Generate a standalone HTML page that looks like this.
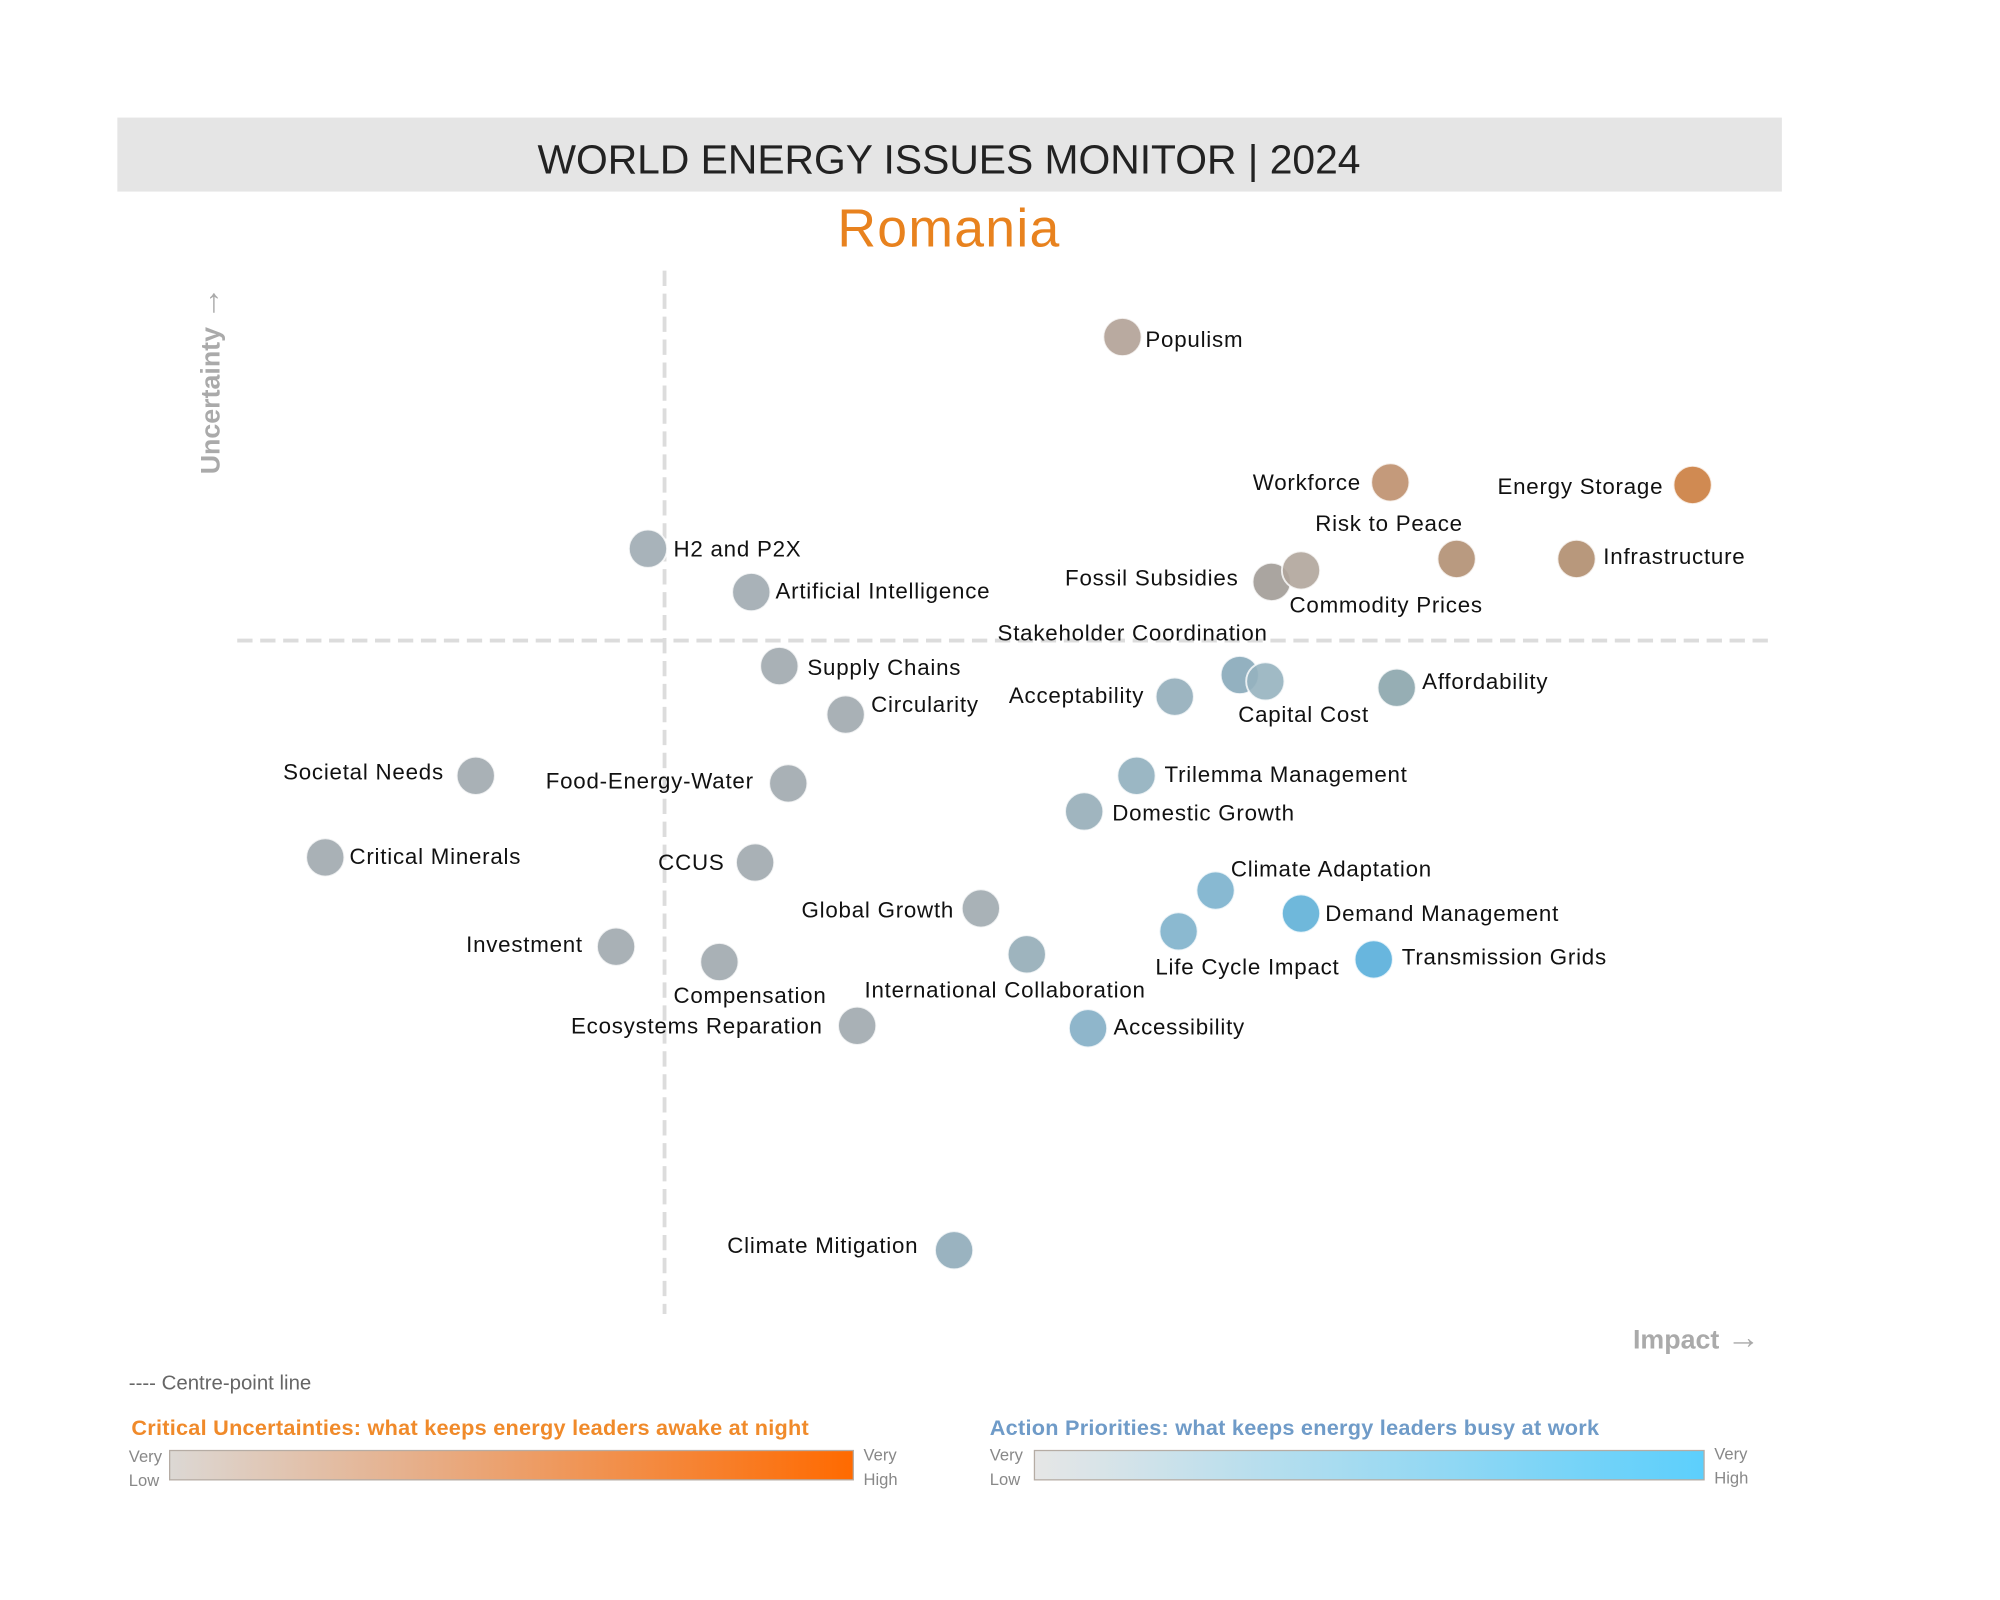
<!DOCTYPE html>
<html><head><meta charset="utf-8"><style>body{margin:0;background:#fff}svg{display:block}</style></head>
<body>
<svg width="2000" height="1600" viewBox="0 0 1568 1254" xmlns="http://www.w3.org/2000/svg" font-family="'Liberation Sans', 'DejaVu Sans', sans-serif">
<defs>
<linearGradient id="go" x1="0" x2="1"><stop offset="0" stop-color="#dcd8d4"/><stop offset="0.35" stop-color="#e6b08c"/><stop offset="1" stop-color="#ff6a00"/></linearGradient>
<linearGradient id="gb" x1="0" x2="1"><stop offset="0" stop-color="#e6e6e6"/><stop offset="1" stop-color="#5ccffc"/></linearGradient>
</defs>
<rect width="1568" height="1254" fill="#fff"/>
<rect x="92" y="92" width="1305" height="58" fill="#e5e5e5"/>
<text x="744" y="136" text-anchor="middle" font-size="32" fill="#222">WORLD ENERGY ISSUES MONITOR | 2024</text>
<text x="744" y="193" text-anchor="middle" font-size="42" fill="#e8821e" letter-spacing="1">Romania</text>
<line x1="521" y1="212" x2="521" y2="1030" stroke="#dcdcdc" stroke-width="3" stroke-dasharray="12,6"/>
<line x1="186" y1="502" x2="1392" y2="502" stroke="#dcdcdc" stroke-width="3" stroke-dasharray="12,6"/>
<text transform="translate(172,298) rotate(-90)" text-anchor="middle" font-size="21" font-weight="bold" fill="#aaa">Uncertainty <tspan font-size="26">→</tspan></text>
<text x="1330" y="1057" text-anchor="middle" font-size="21" font-weight="bold" fill="#aaa">Impact <tspan font-size="26">→</tspan></text>
<g stroke="#fff" stroke-width="1.5" stroke-opacity="0.8">
<circle cx="880" cy="264" r="15" fill="#b9aaa0"/>
<circle cx="1090" cy="378" r="15" fill="#c49a7b"/>
<circle cx="1327" cy="380" r="15" fill="#d08a52"/>
<circle cx="1142" cy="438" r="15" fill="#b99a80"/>
<circle cx="1236" cy="438" r="15" fill="#b8987c"/>
<circle cx="997" cy="456" r="15" fill="#aaa5a0"/>
<circle cx="1020" cy="447" r="15" fill="#b0a59b" fill-opacity="0.9"/>
<circle cx="972" cy="529" r="15" fill="#93b1c0"/>
<circle cx="992" cy="534" r="15" fill="#96b2bf" fill-opacity="0.9"/>
<circle cx="921" cy="546" r="15" fill="#9db5c1"/>
<circle cx="1095" cy="539" r="15" fill="#96aeb4"/>
<circle cx="508" cy="430" r="15" fill="#a8b3ba"/>
<circle cx="589" cy="464" r="15" fill="#a9b2b8"/>
<circle cx="611" cy="522" r="15" fill="#a9b1b6"/>
<circle cx="663" cy="560" r="15" fill="#a9b1b6"/>
<circle cx="373" cy="608" r="15" fill="#a9b1b6"/>
<circle cx="618" cy="614" r="15" fill="#a9b1b6"/>
<circle cx="891" cy="608" r="15" fill="#9bb7c4"/>
<circle cx="850" cy="636" r="15" fill="#a0b5bf"/>
<circle cx="255" cy="672" r="15" fill="#a9b1b6"/>
<circle cx="592" cy="676" r="15" fill="#a9b1b6"/>
<circle cx="953" cy="698" r="15" fill="#88b9d2"/>
<circle cx="1020" cy="716" r="15" fill="#6fb8db"/>
<circle cx="769" cy="712" r="15" fill="#a9b2b7"/>
<circle cx="924" cy="730" r="15" fill="#8bb9d0"/>
<circle cx="1077" cy="752" r="15" fill="#68b6de"/>
<circle cx="483" cy="742" r="15" fill="#a9b1b6"/>
<circle cx="805" cy="748" r="15" fill="#9eb4be"/>
<circle cx="564" cy="754" r="15" fill="#a9b1b6"/>
<circle cx="672" cy="804" r="15" fill="#a9b1b6"/>
<circle cx="853" cy="806" r="15" fill="#8fb6cb"/>
<circle cx="748" cy="980" r="15" fill="#9ab3c0"/>
</g>
<g font-size="17.5" fill="#111" letter-spacing="0.6">
<text x="898" y="272">Populism</text>
<text x="1067" y="384" text-anchor="end">Workforce</text>
<text x="1304" y="387" text-anchor="end">Energy Storage</text>
<text x="1089" y="416" text-anchor="middle">Risk to Peace</text>
<text x="1257" y="442">Infrastructure</text>
<text x="971" y="459" text-anchor="end">Fossil Subsidies</text>
<text x="1011" y="480">Commodity Prices</text>
<text x="888" y="502" text-anchor="middle">Stakeholder Coordination</text>
<text x="1022" y="566" text-anchor="middle">Capital Cost</text>
<text x="897" y="551" text-anchor="end">Acceptability</text>
<text x="1115" y="540">Affordability</text>
<text x="528" y="436">H2 and P2X</text>
<text x="608" y="469">Artificial Intelligence</text>
<text x="633" y="529">Supply Chains</text>
<text x="683" y="558">Circularity</text>
<text x="348" y="611" text-anchor="end">Societal Needs</text>
<text x="591" y="618" text-anchor="end">Food-Energy-Water</text>
<text x="913" y="613">Trilemma Management</text>
<text x="872" y="643">Domestic Growth</text>
<text x="274" y="677">Critical Minerals</text>
<text x="568" y="682" text-anchor="end">CCUS</text>
<text x="965" y="687">Climate Adaptation</text>
<text x="1039" y="722">Demand Management</text>
<text x="748" y="719" text-anchor="end">Global Growth</text>
<text x="978" y="764" text-anchor="middle">Life Cycle Impact</text>
<text x="1099" y="756">Transmission Grids</text>
<text x="457" y="746" text-anchor="end">Investment</text>
<text x="788" y="782" text-anchor="middle">International Collaboration</text>
<text x="588" y="786" text-anchor="middle">Compensation</text>
<text x="645" y="810" text-anchor="end">Ecosystems Reparation</text>
<text x="873" y="811">Accessibility</text>
<text x="720" y="982" text-anchor="end">Climate Mitigation</text>
</g>
<text x="101" y="1089" font-size="16" fill="#666">---- Centre-point line</text>
<text x="103" y="1125" font-size="17" font-weight="bold" fill="#f08a2a" letter-spacing="0.2">Critical Uncertainties: what keeps energy leaders awake at night</text>
<text x="776" y="1125" font-size="17" font-weight="bold" fill="#6f9bc8" letter-spacing="0.2">Action Priorities: what keeps energy leaders busy at work</text>
<rect x="133" y="1137" width="536" height="23" fill="url(#go)" stroke="#b5aca4" stroke-width="1"/>
<rect x="811" y="1137" width="525" height="23" fill="url(#gb)" stroke="#b5aca4" stroke-width="1"/>
<g font-size="13" fill="#888">
<text x="101" y="1146">Very</text><text x="101" y="1165">Low</text>
<text x="677" y="1145">Very</text><text x="677" y="1164">High</text>
<text x="776" y="1145">Very</text><text x="776" y="1164">Low</text>
<text x="1344" y="1144">Very</text><text x="1344" y="1163">High</text>
</g>
</svg>
</body></html>
